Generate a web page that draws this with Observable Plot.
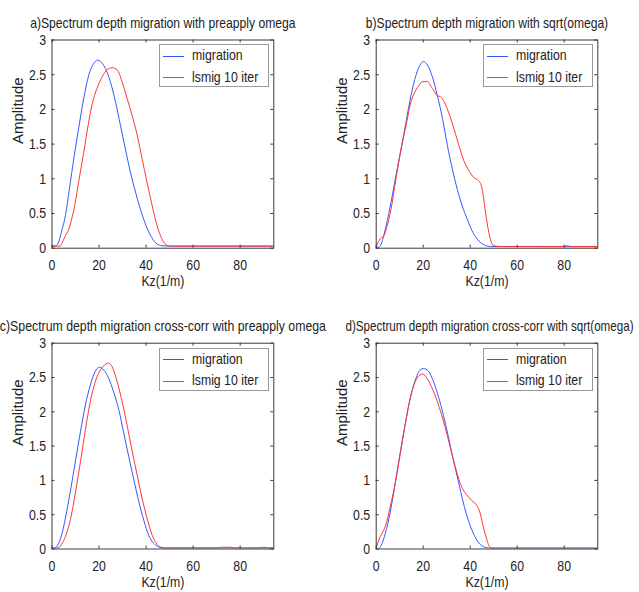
<!DOCTYPE html>
<html>
<head>
<meta charset="utf-8">
<script src="https://cdn.jsdelivr.net/npm/d3@7"></script>
<script src="https://cdn.jsdelivr.net/npm/@observablehq/plot@0.6"></script>
<style>
  body { margin: 0; background: #fff; }
  #page { position: relative; width: 639px; height: 592px; overflow: hidden; background: #fff; }
  #page svg { position: absolute; left: 0; top: 0; }
  .legend { position: absolute; background: #fff; border: 1px solid #9a9a9a; box-sizing: border-box;
            font-family: "Liberation Sans", Arial, sans-serif; font-size: 15px; color: #222; }
  .legend .ln { position: absolute; height: 0; border-top: 1px solid; width: 21px; left: 3px; }
  .legend .tx { position: absolute; left: 32px; line-height: 16px; white-space: nowrap;
                transform: scaleX(0.82); transform-origin: left center; }
</style>
</head>
<body>
<div id="page"></div>
<script>
// ---------- text ----------
const titles = [
  "a)Spectrum depth migration with preapply omega",
  "b)Spectrum depth migration with sqrt(omega)",
  "c)Spectrum depth migration cross-corr with preapply omega",
  "d)Spectrum depth migration cross-corr with sqrt(omega)"
];
const seriesNames = ["migration", "lsmig 10 iter"];
const xLabel = "Kz(1/m)";
const yLabel = "Amplitude";
const xTicks = [0, 20, 40, 60, 80];
const yTicks = [0, 0.5, 1, 1.5, 2, 2.5, 3];

// ---------- data ----------
// panel a
const aMigKz  = [0, 2, 4.3, 5.7, 7.8, 9.9, 11.3, 13.5, 15.6, 17.7, 19.3, 20.6, 22.7, 24.8, 27, 29.1, 31.2, 33.3, 35.5, 37.6, 39.7, 41.8, 44, 46.8, 50, 95];
const aMigAmp = [0.03, 0.04, 0.27, 0.47, 0.95, 1.43, 1.72, 2.16, 2.49, 2.66, 2.71, 2.69, 2.59, 2.40, 2.11, 1.77, 1.43, 1.10, 0.81, 0.56, 0.35, 0.19, 0.08, 0.035, 0.03, 0.03];
const aLsKz   = [0, 3.5, 4.3, 5.7, 7.1, 8.5, 9.9, 11.3, 13.5, 15.6, 17.7, 19.1, 21.3, 23.4, 25.5, 27.7, 29.8, 31.9, 34, 36.2, 38.3, 40.4, 42.6, 44.7, 46.8, 48.9, 51, 95];
const aLsAmp  = [0.03, 0.03, 0.08, 0.18, 0.27, 0.44, 0.66, 0.95, 1.38, 1.82, 2.16, 2.30, 2.47, 2.57, 2.60, 2.57, 2.40, 2.16, 1.92, 1.63, 1.29, 0.95, 0.61, 0.32, 0.13, 0.04, 0.03, 0.03];
// panel b
const bMigKz  = [0, 1.4, 2.8, 4.2, 6.3, 8.4, 10.6, 12.7, 14.8, 16.9, 19, 20.1, 21.8, 23.9, 26, 28.2, 30.3, 32.4, 34.5, 36.6, 38.7, 40.8, 43, 45.8, 48.6, 95];
const bMigAmp = [0.01, 0.02, 0.13, 0.32, 0.66, 1.05, 1.43, 1.82, 2.20, 2.49, 2.66, 2.69, 2.64, 2.47, 2.20, 1.87, 1.48, 1.14, 0.85, 0.61, 0.42, 0.25, 0.13, 0.05, 0.025, 0.02];
const bLsKz   = [0, 1.4, 2.1, 3.2, 4.9, 6.3, 8.4, 10.6, 12.7, 14.8, 16.9, 18.3, 19.7, 21.8, 23.9, 26, 27.5, 28.9, 31, 33.1, 35.2, 37.3, 39.4, 41.5, 43.7, 45.1, 46.5, 47.9, 49.3, 50, 52, 79, 81, 83, 95];
const bLsAmp  = [0.025, 0.12, 0.15, 0.18, 0.35, 0.56, 1.0, 1.43, 1.77, 2.11, 2.28, 2.35, 2.40, 2.40, 2.30, 2.20, 2.18, 2.11, 1.94, 1.72, 1.48, 1.26, 1.12, 1.02, 0.97, 0.85, 0.52, 0.23, 0.06, 0.04, 0.025, 0.025, 0.035, 0.025, 0.025];
// panel c
const cMigKz  = [0, 1.4, 2.8, 4.3, 5.7, 7.8, 9.9, 12.1, 14.2, 16.3, 18.4, 20.1, 22, 24.1, 26.2, 28.4, 30.5, 32.6, 34.8, 36.9, 39, 41.1, 43.3, 45.4, 47.5, 95];
const cMigAmp = [0.01, 0.02, 0.08, 0.23, 0.45, 0.84, 1.27, 1.71, 2.10, 2.39, 2.59, 2.65, 2.61, 2.49, 2.29, 2.03, 1.69, 1.35, 1.01, 0.69, 0.42, 0.20, 0.08, 0.03, 0.015, 0.015];
const cLsKz   = [0, 2.8, 4.3, 5.7, 7.1, 8.5, 9.9, 12.1, 14.2, 16.3, 18.4, 20.6, 22.7, 24.1, 25.5, 27.7, 29.8, 31.9, 34, 36.2, 38.3, 40.4, 42.6, 44.7, 46.8, 49, 70, 72, 76, 78, 88, 90, 92, 95];
const cLsAmp  = [0.01, 0.02, 0.08, 0.18, 0.33, 0.54, 0.81, 1.27, 1.74, 2.15, 2.44, 2.61, 2.69, 2.71, 2.66, 2.44, 2.15, 1.81, 1.44, 1.08, 0.74, 0.45, 0.20, 0.07, 0.02, 0.015, 0.015, 0.025, 0.025, 0.015, 0.015, 0.025, 0.015, 0.015];
// panel d
const dMigKz  = [0, 1.1, 2.5, 3.9, 6, 8.2, 10.3, 12.4, 14.5, 16.6, 18.7, 20.1, 22.3, 24.4, 26.5, 28.6, 30.7, 32.8, 35, 37.1, 39.2, 41.3, 43.4, 46.2, 49, 95];
const dMigAmp = [0, 0.01, 0.08, 0.23, 0.54, 0.98, 1.42, 1.83, 2.20, 2.46, 2.61, 2.63, 2.59, 2.44, 2.22, 1.95, 1.64, 1.30, 0.98, 0.67, 0.42, 0.23, 0.10, 0.025, 0.01, 0.01];
const dLsKz   = [0, 1.1, 2.5, 3.9, 6, 8.2, 10.3, 12.4, 14.5, 16.6, 18.7, 19.9, 21.6, 23.7, 25.8, 27.9, 30, 32.1, 34.2, 36.3, 38.5, 40.6, 42.7, 44.1, 45.5, 46.9, 48.3, 49.7, 95];
const dLsAmp  = [0.01, 0.13, 0.23, 0.33, 0.62, 0.98, 1.40, 1.83, 2.20, 2.44, 2.54, 2.55, 2.49, 2.35, 2.17, 1.95, 1.69, 1.40, 1.13, 0.91, 0.79, 0.71, 0.64, 0.54, 0.33, 0.16, 0.03, 0.015, 0.015];

// ---------- layout & style ----------
const W = 639, H = 592;
const BLUE = "#3458ff", RED = "#ff3535";
const AXC = "#3a3a3a";
const FONT = "'Liberation Sans', Arial, sans-serif";
const SQUEEZE = 0.82;   // the reference lettering is horizontally condensed
const rows = (kz, amp) => kz.map((k, i) => ({kz: k, amp: amp[i]}));

const panels = [
  {title: titles[0], tsq: 0.81,  tdx: 0,   l: 51.5, r: 273.3, t: 39.5, b: 247.7, mig: rows(aMigKz, aMigAmp), ls: rows(aLsKz, aLsAmp)},
  {title: titles[1], tsq: 0.805, tdx: 0,   l: 375.7, r: 597.3, t: 39.5, b: 247.7, mig: rows(bMigKz, bMigAmp), ls: rows(bLsKz, bLsAmp)},
  {title: titles[2], tsq: 0.82,  tdx: 0,   l: 51.5, r: 273.3, t: 342.7, b: 548.5, mig: rows(cMigKz, cMigAmp), ls: rows(cLsKz, cLsAmp)},
  {title: titles[3], tsq: 0.775, tdx: 2.5, l: 375.7, r: 597.3, t: 342.7, b: 548.5, mig: rows(dMigKz, dMigAmp), ls: rows(dLsKz, dLsAmp)}
];

const page = document.getElementById("page");

for (const p of panels) {
  const fw = p.r - p.l, fh = p.b - p.t;
  const svg = Plot.plot({
    width: W, height: H,
    marginLeft: p.l, marginRight: W - p.r, marginTop: p.t, marginBottom: H - p.b,
    style: {background: "transparent", fontFamily: FONT, fontSize: "15px", color: "#222", overflow: "visible"},
    x: {domain: [0, 94.3]},
    y: {domain: [0, 3]},
    marks: [
      Plot.line(p.mig, {x: "kz", y: "amp", stroke: BLUE, strokeWidth: 1, curve: "monotone-x", clip: true}),
      Plot.line(p.ls, {x: "kz", y: "amp", stroke: RED, strokeWidth: 1, curve: "monotone-x", clip: true}),
      Plot.frame({stroke: AXC, strokeWidth: 1}),
      Plot.tickX(xTicks, {x: d => d, insetTop: fh - 3, stroke: AXC}),
      Plot.tickX(xTicks, {x: d => d, insetBottom: fh - 3, stroke: AXC}),
      Plot.tickY(yTicks, {y: d => d, insetRight: fw - 3, stroke: AXC}),
      Plot.tickY(yTicks, {y: d => d, insetLeft: fw - 3, stroke: AXC}),
      Plot.axisX(xTicks, {tickSize: 0, tickPadding: 11, label: null, tickFormat: d => String(d), fill: "#222"}),
      Plot.axisY(yTicks, {tickSize: 0, tickPadding: 6, label: null, tickFormat: d => String(d), fill: "#222"}),
      Plot.text([p.title], {text: d => d, frameAnchor: "top", dy: -23, dx: p.tdx, fill: "#222", className: "ttl"}),
      Plot.text([xLabel], {text: d => d, frameAnchor: "bottom", dy: 38, fill: "#222"}),
      Plot.text([yLabel], {text: d => d, frameAnchor: "left", dx: -34, rotate: -90, fill: "#222", fontSize: 15})
    ]
  });
  page.appendChild(svg);

  // condense horizontal lettering like the reference (vertical label left as is)
  svg.querySelectorAll("text").forEach(t => {
    if (t.textContent === yLabel) return;
    const k = t.textContent === p.title ? p.tsq : SQUEEZE;
    const w = t.getComputedTextLength();
    if (w > 0) {
      t.setAttribute("textLength", (w * k).toFixed(2));
      t.setAttribute("lengthAdjust", "spacingAndGlyphs");
    }
  });

  // legend box (upper right inside the frame)
  const lg = document.createElement("div");
  lg.className = "legend";
  const lw = 110, lh = 43;
  lg.style.left = (p.r - 4 - lw) + "px";
  lg.style.top = (p.t + 4.8) + "px";
  lg.style.width = lw + "px";
  lg.style.height = lh + "px";
  [[seriesNames[0], BLUE, 10.5], [seriesNames[1], RED, 32]].forEach(([name, col, y]) => {
    const ln = document.createElement("div");
    ln.className = "ln";
    ln.style.top = y + "px";
    ln.style.borderColor = col;
    lg.appendChild(ln);
    const tx = document.createElement("div");
    tx.className = "tx";
    tx.style.top = (y - 8.5) + "px";
    tx.textContent = name;
    lg.appendChild(tx);
  });
  page.appendChild(lg);
}
</script>
</body>
</html>
